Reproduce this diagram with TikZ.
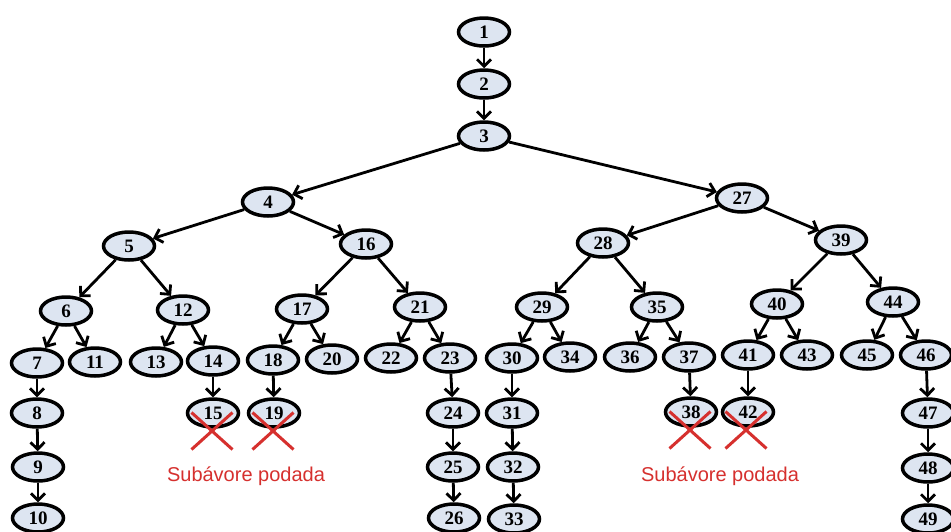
\documentclass[tikz,border=0pt]{standalone}
\usepackage{fontspec}
\setmainfont{Liberation Serif}
\newfontfamily\labelfont{Liberation Sans}
\usetikzlibrary{shapes.geometric,shapes.misc,arrows.meta}
\definecolor{nodefill}{RGB}{221,229,241}
\definecolor{prunered}{RGB}{214,48,46}
\begin{document}
\begin{tikzpicture}[x=1pt,y=-1pt,
  tnode/.style={ellipse,draw=black,line width=3.5pt,fill=nodefill,
    minimum width=51pt,minimum height=28pt,inner sep=0pt,
    font=\fontsize{19}{19}\selectfont\bfseries},
  link/.style={line width=2.8pt,-{Straight Barb[length=7pt,width=14pt]}},
  crossmark/.style={cross out,draw=prunered,line width=3pt,
    minimum width=38pt,minimum height=34pt,inner sep=0pt},
  prunelabel/.style={text=prunered,font=\labelfont\fontsize{20}{20}\selectfont}]
\clip (0,0) rectangle (951,531);
\fill[white] (0,0) rectangle (951,531);

% levels 0-2
\node[tnode] (n1) at (484,32) {1};
\node[tnode] (n2) at (484,84) {2};
\node[tnode] (n3) at (484,136) {3};
\node[tnode] (n4) at (268,202) {4};
\node[tnode] (n27) at (742,198) {27};
\node[tnode] (n5) at (129,246) {5};
\node[tnode] (n16) at (366,244) {16};
\node[tnode] (n28) at (603,243) {28};
\node[tnode] (n39) at (841,240) {39};
% level 3
\node[tnode] (n6) at (66,311) {6};
\node[tnode] (n12) at (183,310) {12};
\node[tnode] (n17) at (302,309) {17};
\node[tnode] (n21) at (420,307) {21};
\node[tnode] (n29) at (542,307) {29};
\node[tnode] (n35) at (657,307) {35};
\node[tnode] (n40) at (777,304) {40};
\node[tnode] (n44) at (893,302) {44};
% level 4
\node[tnode] (n7) at (37,363) {7};
\node[tnode] (n11) at (95,362) {11};
\node[tnode] (n13) at (156,362) {13};
\node[tnode] (n14) at (213,361) {14};
\node[tnode] (n18) at (273,360) {18};
\node[tnode] (n20) at (332,359) {20};
\node[tnode] (n22) at (391,358) {22};
\node[tnode] (n23) at (450,358) {23};
\node[tnode] (n30) at (512,358) {30};
\node[tnode] (n34) at (570,357) {34};
\node[tnode] (n36) at (630,357) {36};
\node[tnode] (n37) at (689,357) {37};
\node[tnode] (n41) at (748,355) {41};
\node[tnode] (n43) at (807,355) {43};
\node[tnode] (n45) at (867,355) {45};
\node[tnode] (n46) at (926,355) {46};
% level 5
\node[tnode] (n8) at (37,413) {8};
\node[tnode] (n15) at (213,413) {15};
\node[tnode] (n19) at (274,413) {19};
\node[tnode] (n24) at (453,413) {24};
\node[tnode] (n31) at (512,413) {31};
\node[tnode] (n38) at (691,412) {38};
\node[tnode] (n42) at (748,412) {42};
\node[tnode] (n47) at (928,413) {47};
% level 6
\node[tnode] (n9) at (38,467) {9};
\node[tnode] (n25) at (453,467) {25};
\node[tnode] (n32) at (513,467) {32};
\node[tnode] (n48) at (928,468) {48};
% level 7
\node[tnode] (n10) at (38,518) {10};
\node[tnode] (n26) at (454,518) {26};
\node[tnode] (n33) at (514,519) {33};
\node[tnode] (n49) at (928,519) {49};

% tree edges
\foreach \a/\b in {1/2,2/3,3/4,3/27,4/5,4/16,5/6,5/12,6/7,6/11,7/8,8/9,9/10,
  12/13,12/14,14/15,16/17,16/21,17/18,17/20,18/19,21/22,21/23,23/24,24/25,25/26,
  27/28,27/39,28/29,28/35,29/30,29/34,30/31,31/32,32/33,35/36,35/37,37/38,
  39/40,39/44,40/41,40/43,41/42,44/45,44/46,46/47,47/48,48/49}
  \draw[link] (n\a) -- (n\b);

% pruned subtrees
\node[crossmark] (x15) at (212,431) {};
\node[crossmark] (x19) at (273,431) {};
\node[crossmark] (x38) at (690,430) {};
\node[crossmark] (x42) at (746,430) {};
\node[prunelabel] (p1) at (246,476) {Subávore podada};
\node[prunelabel] (p2) at (720,476) {Subávore podada};
\end{tikzpicture}
\end{document}
